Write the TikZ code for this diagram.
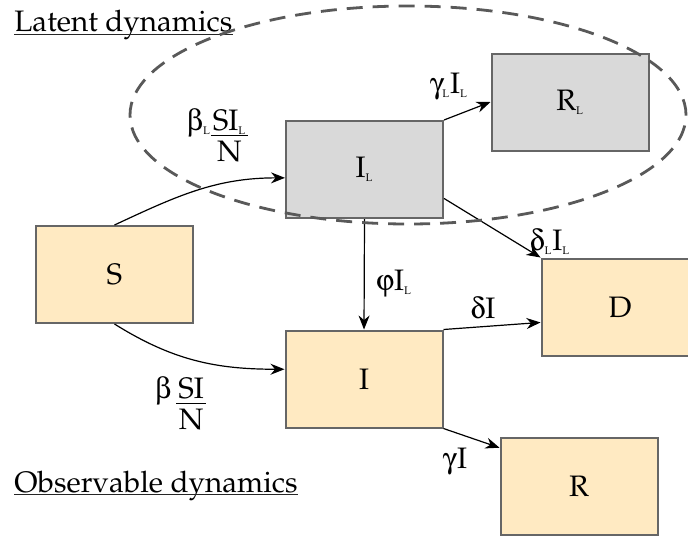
\documentclass[tikz,border=0pt]{standalone}
\usepackage[T1]{fontenc}
\usepackage{mathpazo}
\usepackage[Symbol]{upgreek}
\usetikzlibrary{
  arrows.meta
}
\definecolor{latentfill}{HTML}{D9D9D9}
\definecolor{observedfill}{HTML}{FFEAC2}
\definecolor{boxedge}{HTML}{666666}
\definecolor{regionedge}{HTML}{595959}
\newcommand{\diagramfont}{\fontsize{14.8}{18}\selectfont}
\newcommand{\lsub}{_{\mbox{\fontsize{5.5}{6}\selectfont L}}}
\newcommand{\flowfrac}[2]{{\renewcommand{\arraystretch}{0}\setlength{\arrayrulewidth}{0.6pt}%
  \begin{tabular}[t]{@{\hspace{1pt}}c@{\hspace{1pt}}}\rule[-2.5pt]{0pt}{2.5pt}#1\\\hline\rule{0pt}{12.5pt}#2\end{tabular}}}
\tikzset{
  compartment/.style={
    draw=boxedge,
    line width=1pt,
    minimum width=78.5pt,
    minimum height=48.5pt,
    inner sep=0pt,
    font=\diagramfont
  },
  latent/.style={compartment, fill=latentfill},
  observed/.style={compartment, fill=observedfill},
  flow/.style={
    -{Stealth[length=7pt,width=5.5pt]},
    line width=0.6pt
  },
  rate/.style={font=\diagramfont, inner sep=0pt},
  titleline/.style={line width=0.7pt, black!85},
  boundary/.style={
    draw=regionedge,
    line width=1.4pt,
    dash pattern=on 8pt off 5pt
  }
}

\begin{document}
\begin{tikzpicture}[x=0.5pt,y=0.5pt]
  \useasboundingbox (0,0) rectangle (688,537);
  \node[observed] (S) at (114.5,262.5) {S};
  \node[latent] (IL) at (364.5,367.5) {I$\lsub$};
  \node[latent] (RL) at (570,435) {R$\lsub$};
  \node[observed] (I) at (364,158) {I};
  \node[observed] (D) at (620,230) {D};
  \node[observed] (R) at (579,50.5) {R};
  \draw[flow] (S.north) to[out=25,in=180] (IL.186);
  \draw[flow] (S.south) to[out=-32,in=180] (I.173);
  \draw[flow] (IL.north east) -- (RL.west);
  \draw[flow] (IL.-20) -- (D.north west);
  \draw[flow] (IL.south) -- (I.north);
  \draw[flow] (I.north east) -- (D.191);
  \draw[flow] (I.south east) -- (R.154);
  \node[rate, anchor=base] (rinfL) at (217.5,407) {$\upbeta\lsub$\flowfrac{S$\mathrm{I}\lsub$}{N}};
  \node[rate, anchor=base] (rinf) at (180.5,139) {$\upbeta$\,\flowfrac{SI}{N}};
  \node[rate, anchor=base] (rrecL) at (449,444) {$\upgamma\lsub\mathrm{I}\lsub$};
  \node[rate, anchor=base] (rdeathL) at (550,287) {$\updelta\lsub\mathrm{I}\lsub$};
  \node[rate, anchor=base] (rdetect) at (394,247) {$\upvarphi\mathrm{I}\lsub$};
  \node[rate, anchor=base] (rdeath) at (483,219) {$\updelta\mathrm{I}$};
  \node[rate, anchor=base] (rrec) at (455,69) {$\upgamma\mathrm{I}$};
  \node[rate, anchor=base west] (latenttitle) at (14,505) {Latent dynamics};
  \node[rate, anchor=base west] (observedtitle) at (14,45) {Observable dynamics};
  \draw[titleline] ([yshift=-1.2pt]latenttitle.base west) -- ([yshift=-1.2pt]latenttitle.base east);
  \draw[titleline] ([yshift=-1.2pt]observedtitle.base west) -- ([yshift=-1.2pt]observedtitle.base east);
  \draw[boundary] (408,422) ellipse [x radius=139pt, y radius=54.5pt];
\end{tikzpicture}
\end{document}
